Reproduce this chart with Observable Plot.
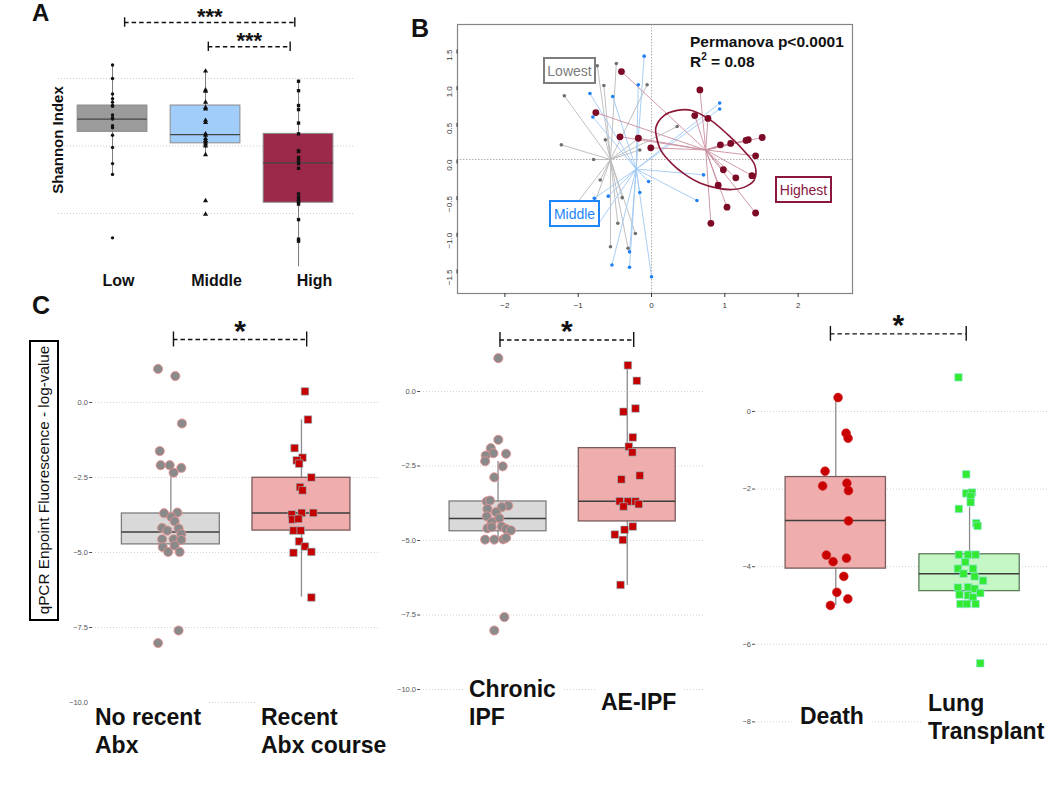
<!DOCTYPE html>
<html>
<head>
<meta charset="utf-8">
<script src="https://cdn.jsdelivr.net/npm/d3@7"></script>
<script src="https://cdn.jsdelivr.net/npm/@observablehq/plot@0.6"></script>
<style>
  body { margin: 0; background: #fff; }
  #fig { position: relative; width: 1050px; height: 794px; overflow: hidden; background: #fff;
         font-family: "Liberation Sans", Arial, sans-serif; }
  .panel { position: absolute; }
  .panel svg { overflow: visible; }
</style>
</head>
<body>
<div id="fig"></div>
<script>
// ---------------- Panel A: Shannon index ----------------
const shannonGroups = ["Low", "Middle", "High"];
const shannonLow = [3.20, 3.00, 2.77, 2.70, 2.65, 2.60, 2.59, 2.46, 2.42, 2.40, 2.30, 2.27, 2.16, 1.98, 1.74, 1.58, 0.64];
const shannonMiddle = [3.11, 2.83, 2.81, 2.65, 2.57, 2.55, 2.38, 2.35, 2.18, 2.16, 2.11, 2.08, 2.06, 2.03, 2.00, 1.87, 1.19, 0.99];
const shannonHigh = [2.96, 2.82, 2.60, 2.54, 2.34, 2.18, 1.93, 1.92, 1.83, 1.79, 1.74, 1.67, 1.29, 1.24, 1.19, 1.17, 1.14, 0.91, 0.62, 0.59];
const shannonQ1 = [2.21, 2.04, 1.16];
const shannonMedian = [2.40, 2.17, 1.75];
const shannonQ3 = [2.60, 2.60, 2.18];
const shannonWhiskerLo = [1.58, 1.87, 0.21];
const shannonWhiskerHi = [3.20, 3.10, 2.96];
const shannonSig = [["Low", "High", "***"], ["Middle", "High", "***"]];

// ---------------- Panel B: PCoA ----------------
const pcoaGroups = ["Lowest", "Middle", "Highest"];
const lowestX = [-0.74, -0.48, -0.65, -0.06, -1.19, -0.63, -0.16, -0.16, -1.23, -0.79, 0.35, -0.70, -0.40, -0.46, -0.22, -0.56, -0.32, -0.86, -1.06];
const lowestY = [1.28, 1.31, 1.01, 1.02, 0.87, 0.27, 0.30, 0.13, 0.20, 0.00, 0.45, -0.28, -0.52, -0.87, -1.01, -1.19, -1.21, -0.82, -0.65];
const middleX = [-0.10, -0.18, -0.84, -0.53, -0.80, 0.93, 0.93, 0.71, -0.04, -0.16, -0.59, -0.78, 0.62, -0.30, -0.54, -0.30, 0.00, -0.74];
const middleY = [1.41, 1.02, 0.90, 0.86, 0.58, 0.77, 0.69, -0.21, -0.30, -0.45, -0.50, -0.53, -0.56, -1.26, -1.44, -1.47, -1.60, -0.90];
const highestX = [-0.41, 0.66, -0.76, 0.59, 0.77, -0.43, -0.18, -0.01, 0.94, 1.08, 1.29, 1.32, 1.51, 1.42, 0.98, 1.15, 1.37, 0.91, 1.03, 1.42, 0.81];
const highestY = [1.20, 0.95, 0.64, 0.60, 0.56, 0.31, 0.29, 0.16, 0.20, 0.22, 0.26, 0.27, 0.30, 0.05, -0.14, -0.25, -0.22, -0.35, -0.65, -0.73, -0.87];
const centroidX = [-0.56, -0.21, 0.74];
const centroidY = [0.00, -0.13, 0.13];
const ellipseX = [0.07, 0.06, 0.17, 0.35, 0.55, 0.80, 1.03, 1.26, 1.41, 1.40, 1.26, 1.10, 0.90, 0.66, 0.45, 0.28, 0.13];
const ellipseY = [0.30, 0.44, 0.60, 0.67, 0.67, 0.54, 0.35, 0.12, -0.08, -0.28, -0.38, -0.41, -0.39, -0.32, -0.20, -0.06, 0.12];
const pcoaYTicks = [-1.5, -1.0, -0.5, 0.0, 0.5, 1.0, 1.5];
const pcoaXTicks = [-2, -1, 0, 1, 2];

// ---------------- Panel C: qPCR ----------------
const qpcrYLabel = "qPCR Enpoint Fluorescence - log-value";
// C1 antibiotics
const abxGroups = [["No recent", "Abx"], ["Recent", "Abx course"]];
const abxNoValues = [1.12, 0.88, -0.70, -1.62, -2.09, -2.09, -2.18, -2.34, -3.69, -3.67, -3.82, -3.96, -4.18, -4.20, -4.27, -4.38, -4.56, -4.56, -4.58, -4.82, -4.77, -4.98, -4.98, -7.60, -8.02];
const abxNoJitter = [-0.098, 0.034, 0.085, -0.085, -0.078, -0.009, 0.080, 0.021, -0.052, 0.050, 0.004, 0.029, -0.067, 0.059, -0.027, 0.080, -0.067, 0.021, 0.080, -0.062, 0.029, -0.021, 0.067, 0.059, -0.098];
const abxRecentValues = [0.37, -0.57, -1.52, -1.84, -1.93, -2.04, -2.50, -2.82, -2.93, -3.68, -3.68, -3.73, -3.90, -3.88, -4.27, -4.27, -4.63, -4.80, -5.01, -4.98, -6.50];
const abxRecentJitter = [0.027, 0.050, -0.053, 0.008, -0.036, -0.018, 0.076, -0.011, 0.008, 0.091, 0.002, -0.074, -0.069, -0.023, -0.061, -0.005, -0.018, 0.027, -0.061, 0.076, 0.076];
const abxQ1 = [-4.73, -4.27], abxMedian = [-4.32, -3.68], abxQ3 = [-3.70, -2.51], abxLo = [-4.98, -6.49], abxHi = [-2.23, -0.58];
const abxTicks = [0, -2.5, -5, -7.5, -10];
// C2 IPF
const ipfGroups = [["Chronic", "IPF"], ["AE-IPF"]];
const chronicValues = [1.12, -1.62, -1.90, -2.07, -2.15, -2.09, -2.34, -2.51, -2.88, -3.69, -3.66, -3.83, -3.88, -3.94, -4.05, -4.19, -4.25, -4.39, -4.59, -4.55, -4.53, -4.61, -4.66, -4.97, -4.97, -4.96, -4.91, -7.57, -8.02];
const chronicJitter = [0.002, 0.002, -0.056, -0.036, -0.095, 0.062, -0.100, 0.036, -0.029, -0.087, -0.062, 0.079, 0.029, -0.082, -0.015, -0.087, 0.010, -0.049, -0.082, -0.049, 0.029, 0.062, 0.100, -0.100, -0.029, 0.041, 0.062, 0.049, -0.029];
const aeValues = [0.88, 0.36, -0.68, -0.57, -1.54, -1.85, -2.04, -2.95, -2.82, -3.68, -3.69, -3.69, -3.86, -3.78, -4.53, -4.64, -4.80, -4.98, -6.49];
const aeJitter = [0.005, 0.074, -0.029, 0.064, 0.043, 0.012, 0.039, -0.046, 0.097, -0.059, 0.005, 0.064, -0.029, 0.089, 0.043, -0.021, -0.096, -0.034, -0.052];
const ipfQ1 = [-4.69, -4.36], ipfMedian = [-4.26, -3.68], ipfQ3 = [-3.69, -1.90], ipfLo = [-4.97, -6.51], ipfHi = [-2.35, 0.93];
const ipfTicks = [0, -2.5, -5, -7.5, -10];
// C3 outcome
const outcomeGroups = [["Death"], ["Lung", "Transplant"]];
const deathValues = [0.36, -0.56, -0.69, -1.54, -1.92, -1.85, -2.04, -2.82, -3.70, -3.87, -3.78, -4.25, -4.66, -4.83, -5.00];
const deathJitter = [0.017, 0.077, 0.092, -0.080, -0.098, 0.083, 0.095, 0.095, -0.070, -0.020, 0.080, 0.060, 0.008, 0.090, -0.040];
const transplantValues = [0.88, -1.62, -2.11, -2.09, -2.19, -2.34, -2.51, -2.88, -2.95, -3.69, -3.69, -3.69, -3.88, -4.05, -4.05, -4.18, -4.25, -4.36, -4.54, -4.53, -4.57, -4.72, -4.68, -4.74, -4.79, -4.96, -4.96, -4.96, -6.49];
const transplantJitter = [-0.083, -0.025, -0.025, 0.018, 0.008, 0.008, -0.080, 0.050, 0.060, -0.080, -0.012, 0.045, -0.032, -0.087, 0.026, -0.045, 0.038, 0.101, -0.087, -0.012, 0.038, -0.075, 0.080, -0.012, 0.026, -0.068, -0.020, 0.045, 0.080];
const outcomeQ1 = [-4.05, -4.63], outcomeMedian = [-2.81, -4.18], outcomeQ3 = [-1.69, -3.68], outcomeLo = [-5.00, -4.95], outcomeHi = [0.28, -2.47];
const outcomeTicks = [0, -2, -4, -6, -8];

// ---------------- helpers ----------------
const FONT = '"Liberation Sans", Arial, sans-serif';
const fig = document.getElementById("fig");

function place(node, left, top) {
  const d = document.createElement("div");
  d.className = "panel";
  d.style.left = left + "px";
  d.style.top = top + "px";
  d.appendChild(node);
  fig.appendChild(d);
  return d;
}

// text placed by baseline of its first line
function txt(lines, o) {
  const d = document.createElement("div");
  const fs = o.size, lh = o.lh || fs;
  d.style.position = "absolute";
  d.style.whiteSpace = "nowrap";
  d.style.fontFamily = FONT;
  d.style.fontSize = fs + "px";
  d.style.lineHeight = lh + "px";
  d.style.fontWeight = o.weight || "normal";
  d.style.color = o.color || "#111";
  if (o.bg) { d.style.background = o.bg; d.style.padding = "6px 6px"; }
  const pad = o.bg ? 6 : 0;
  const top = o.baseline - ((lh - 1.117 * fs) / 2 + 0.905 * fs) - pad;
  d.style.left = (o.left - pad) + "px";
  d.style.top = top + "px";
  lines.forEach((line, i) => {
    if (i) d.appendChild(document.createElement("br"));
    if (typeof line === "string") d.appendChild(document.createTextNode(line));
    else d.appendChild(line);
  });
  fig.appendChild(d);
  return d;
}

function rotatedText(text, cx, cy, o) {
  const d = document.createElement("div");
  d.style.cssText = `position:absolute;left:${cx}px;top:${cy}px;white-space:nowrap;font-family:${FONT};` +
    `font-size:${o.size}px;line-height:1;font-weight:${o.weight || "normal"};color:${o.color || "#111"};` +
    `transform:translate(-50%,-50%) rotate(-90deg);`;
  d.textContent = text;
  fig.appendChild(d);
  return d;
}

function boxLabel(text, x, y, w, h, color) {
  const d = document.createElement("div");
  d.style.cssText = `position:absolute;left:${x}px;top:${y}px;width:${w}px;height:${h}px;box-sizing:border-box;` +
    `border:2px solid ${color};color:${color};font-family:${FONT};font-size:14px;display:flex;` +
    `align-items:center;justify-content:center;background:#fff;`;
  d.textContent = text;
  fig.appendChild(d);
}

function bracketMarks(br, cap, starSize) {
  return [
    Plot.ruleY(br, {y: "y", x1: "x1", x2: "x2", stroke: "#111", strokeWidth: 1.4, strokeDasharray: "4.5,3"}),
    Plot.ruleX(br, {x: "x1", y1: d => d.y - cap, y2: d => d.y + cap, stroke: "#111", strokeWidth: 1.4}),
    Plot.ruleX(br, {x: "x2", y1: d => d.y - cap, y2: d => d.y + cap, stroke: "#111", strokeWidth: 1.4}),
    Plot.text(br, {x: d => (d.x1 + d.x2) / 2, y: "y", text: "label", fontSize: starSize, fontWeight: "bold",
                   lineAnchor: "bottom", dy: 1.5, fill: "#111"})
  ];
}

// ---------------- Panel A ----------------
{
  const boxes = shannonGroups.map((g, i) => ({g, x: i + 1, q1: shannonQ1[i], med: shannonMedian[i], q3: shannonQ3[i], lo: shannonWhiskerLo[i], hi: shannonWhiskerHi[i]}));
  const fills = ["#9b9b9b", "#a0cdf9", "#9c2949"];
  const series = [shannonLow, shannonMiddle, shannonHigh];
  const symbols = ["circle", "triangle", "square"];
  const labelDx = [6, 11, 16];
  const pos = {Low: 1, Middle: 2, High: 3};
  const br = [
    {x1: pos[shannonSig[0][0]] + 0.13, x2: pos[shannonSig[0][1]] - 0.04, y: 3.83, label: shannonSig[0][2]},
    {x1: pos[shannonSig[1][0]] + 0.03, x2: pos[shannonSig[1][1]] - 0.09, y: 3.47, label: shannonSig[1][2]}
  ];
  const chart = Plot.plot({
    width: 370, height: 300, marginLeft: 58, marginRight: 17, marginTop: 0, marginBottom: 30,
    x: {domain: [0.419, 3.591], axis: null},
    y: {domain: [0.156, 4.156], axis: null},
    style: {background: "transparent", fontFamily: FONT},
    marks: [
      Plot.ruleY([1, 2, 3], {stroke: "#cfcfcf", strokeDasharray: "1,2"}),
      Plot.ruleX(boxes, {x: "x", y1: "lo", y2: "hi", stroke: "#7a7a7a", strokeWidth: 1}),
      ...boxes.map((b, i) => Plot.rect([b], {x1: d => d.x - 0.375, x2: d => d.x + 0.375, y1: "q1", y2: "q3", fill: fills[i], stroke: "#8a8a8a", strokeWidth: 1})),
      Plot.ruleY(boxes, {y: "med", x1: d => d.x - 0.375, x2: d => d.x + 0.375, stroke: "#444", strokeWidth: 1.2}),
      ...series.map((vals, i) => Plot.dot(vals.map(v => ({x: i + 1, v})), {x: "x", y: "v", symbol: symbols[i], r: i === 0 ? 1.7 : 1.9, fill: "#111"})),
      ...bracketMarks(br, 0.07, 22),
      ...shannonGroups.map((g, i) => Plot.axisX([i + 1], {tickFormat: () => g, tickSize: 0, tickPadding: 4, fontSize: 16, fontWeight: "bold", dx: labelDx[i], color: "#111", label: null}))
    ]
  });
  place(chart, 0, 0);
  txt(["A"], {left: 32, baseline: 21, size: 24, weight: "bold"});
  rotatedText("Shannon Index", 57, 140, {size: 15, weight: "bold"});
}

// ---------------- Panel B ----------------
{
  const mk = (xs, ys, gi) => xs.map((x, i) => ({x, y: ys[i], cx: centroidX[gi], cy: centroidY[gi]}));
  const low = mk(lowestX, lowestY, 0), mid = mk(middleX, middleY, 1), high = mk(highestX, highestY, 2);
  const ell = ellipseX.map((x, i) => ({x, y: ellipseY[i]}));
  const chart = Plot.plot({
    width: 460, height: 320, marginLeft: 57, marginRight: 8, marginTop: 24, marginBottom: 27,
    x: {domain: [-2.647, 2.742], axis: null},
    y: {domain: [-1.828, 1.842], axis: null},
    style: {background: "transparent", fontFamily: FONT},
    marks: [
      Plot.ruleX([0], {stroke: "#b0b0b0", strokeDasharray: "1.5,1.5"}),
      Plot.ruleY([0], {stroke: "#b0b0b0", strokeDasharray: "1.5,1.5"}),
      Plot.link(low, {x1: "cx", y1: "cy", x2: "x", y2: "y", stroke: "#b9b9b9", strokeWidth: 0.9}),
      Plot.link(mid, {x1: "cx", y1: "cy", x2: "x", y2: "y", stroke: "#9fc8f4", strokeWidth: 0.9}),
      Plot.link(high, {x1: "cx", y1: "cy", x2: "x", y2: "y", stroke: "#c98f9e", strokeWidth: 0.9}),
      Plot.line(ell, {x: "x", y: "y", curve: "catmull-rom-closed", stroke: "#8c1838", strokeWidth: 1.6}),
      Plot.dot(low, {x: "x", y: "y", r: 1.8, fill: "#707070"}),
      Plot.dot(mid, {x: "x", y: "y", r: 1.8, fill: "#1f80f5"}),
      Plot.dot(high, {x: "x", y: "y", r: 3.4, fill: "#7c0a26"}),
      Plot.frame({stroke: "#858585", strokeWidth: 1.2}),
      Plot.axisY(pcoaYTicks, {tickFormat: d3.format(".1f"), rotate: -90, fontSize: 8, tickSize: 4, tickPadding: 4, color: "#333", label: null}),
      Plot.axisX(pcoaXTicks, {tickFormat: d3.format("d"), fontSize: 8, tickSize: 4, tickPadding: 5, color: "#333", label: null})
    ]
  });
  place(chart, 400, 0);
  txt(["B"], {left: 411, baseline: 37, size: 25, weight: "bold"});
  boxLabel(pcoaGroups[0], 543, 57, 53, 27, "#7d7d7d");
  boxLabel(pcoaGroups[1], 549, 200, 51, 27, "#1e86fb");
  boxLabel(pcoaGroups[2], 775, 176, 57, 27, "#8a1740");
  txt(["Permanova p<0.0001"], {left: 690, baseline: 47, size: 15.5, weight: "bold"});
  const r2 = document.createElement("span");
  r2.innerHTML = "R<sup style=\"font-size:10px;vertical-align:7px;line-height:0\">2</sup> = 0.08";
  txt([r2], {left: 690, baseline: 67, size: 15.5, weight: "bold"});
}

// ---------------- Panel C ----------------
function qpcrPanel(o) {
  const boxes = [0, 1].map(i => ({x: i + 1, q1: o.q1[i], med: o.med[i], q3: o.q3[i], lo: o.lo[i], hi: o.hi[i]}));
  const marks = [
    Plot.ruleY(o.ticks, {stroke: "#d2d2d2", strokeDasharray: "1,2"}),
    Plot.axisY(o.ticks, {tickFormat: o.fmt, tickSize: 3, tickPadding: 1.5, fontSize: 7.5, color: "#555", label: null}),
    Plot.ruleX(boxes, {x: "x", y1: "lo", y2: "hi", stroke: "#8c8c8c", strokeWidth: 1.3})
  ];
  boxes.forEach((b, i) => {
    marks.push(Plot.rect([b], {x1: d => d.x - 0.375, x2: d => d.x + 0.375, y1: "q1", y2: "q3",
      fill: o.styles[i].box, stroke: o.styles[i].edge, strokeWidth: 1.3}));
  });
  marks.push(Plot.ruleY(boxes, {y: "med", x1: d => d.x - 0.375, x2: d => d.x + 0.375, stroke: "#3d3d3d", strokeWidth: 1.5}));
  [0, 1].forEach(i => {
    const s = o.styles[i];
    const pts = o.values[i].map((v, k) => ({x: i + 1 + o.jitter[i][k], v}));
    marks.push(Plot.dot(pts, {x: "x", y: "v", symbol: s.symbol, r: s.r, fill: s.fill, stroke: s.stroke, strokeWidth: s.sw}));
  });
  marks.push(...bracketMarks([o.bracket], o.cap, 30));
  const chart = Plot.plot({
    width: o.width, height: 460, marginLeft: o.marginLeft, marginRight: o.marginRight, marginTop: 20, marginBottom: 20,
    x: {domain: [0.4, 2.59], axis: null},
    y: {domain: o.yDomain, axis: null},
    style: {background: "transparent", fontFamily: FONT},
    marks
  });
  place(chart, o.left, 300);
}

const greyCircle = {symbol: "circle", r: 4.6, fill: "#8a8a8a", stroke: "#f09090", sw: 0.8, box: "#d9d9d9", edge: "#7d7d7d"};
const redSquare = {symbol: "square", r: 4.3, fill: "#c40000", stroke: "#8fcbd2", sw: 0.6, box: "#efadad", edge: "#7a5c5c"};
const redCircle = {symbol: "circle", r: 4.4, fill: "#c90000", stroke: "#d42020", sw: 0.6, box: "#efadad", edge: "#7a5c5c"};
const greenSquare = {symbol: "square", r: 4.2, fill: "#33ea33", stroke: "#8fe3dd", sw: 0.6, box: "#c4f7c4", edge: "#5d7d5d"};

qpcrPanel({left: 0, width: 390, marginLeft: 92, marginRight: 12, yDomain: [-11.267, 2.733], ticks: abxTicks, fmt: d3.format(".1f"),
  values: [abxNoValues, abxRecentValues], jitter: [abxNoJitter, abxRecentJitter],
  q1: abxQ1, med: abxMedian, q3: abxQ3, lo: abxLo, hi: abxHi, styles: [greyCircle, redSquare],
  bracket: {x1: 1.02, x2: 2.04, y: 2.1, label: "*"}, cap: 0.25});
qpcrPanel({left: 370, width: 340, marginLeft: 50, marginRight: 7, yDomain: [-11.711, 2.383], ticks: ipfTicks, fmt: d3.format(".1f"),
  values: [chronicValues, aeValues], jitter: [chronicJitter, aeJitter],
  q1: ipfQ1, med: ipfMedian, q3: ipfQ3, lo: ipfLo, hi: ipfHi, styles: [greyCircle, redSquare],
  bracket: {x1: 1.015, x2: 2.05, y: 1.73, label: "*"}, cap: 0.25});
qpcrPanel({left: 710, width: 340, marginLeft: 45, marginRight: 2, yDomain: [-8.48, 2.345], ticks: outcomeTicks, fmt: d3.format("d"),
  values: [deathValues, transplantValues], jitter: [deathJitter, transplantJitter],
  q1: outcomeQ1, med: outcomeMedian, q3: outcomeQ3, lo: outcomeLo, hi: outcomeHi, styles: [redCircle, greenSquare],
  bracket: {x1: 0.96, x2: 1.975, y: 2.0, label: "*"}, cap: 0.19});

// C labels
txt(["C"], {left: 32, baseline: 314, size: 25, weight: "bold"});
{
  const box = document.createElement("div");
  box.style.cssText = "position:absolute;left:29px;top:340px;width:30px;height:281px;box-sizing:border-box;border:2px solid #000;";
  fig.appendChild(box);
  rotatedText(qpcrYLabel, 44, 480, {size: 15.3});
}
const catOpt = {size: 23, weight: "bold", lh: 27.3, bg: "#fff"};
txt(abxGroups[0], {...catOpt, left: 95, baseline: 726});
txt(abxGroups[1], {...catOpt, left: 261, baseline: 726});
txt(ipfGroups[0], {...catOpt, left: 469, baseline: 698});
txt(ipfGroups[1], {...catOpt, left: 601, baseline: 711});
txt(outcomeGroups[0], {...catOpt, left: 800, baseline: 725});
txt(outcomeGroups[1], {...catOpt, left: 928, baseline: 712});
</script>
</body>
</html>
